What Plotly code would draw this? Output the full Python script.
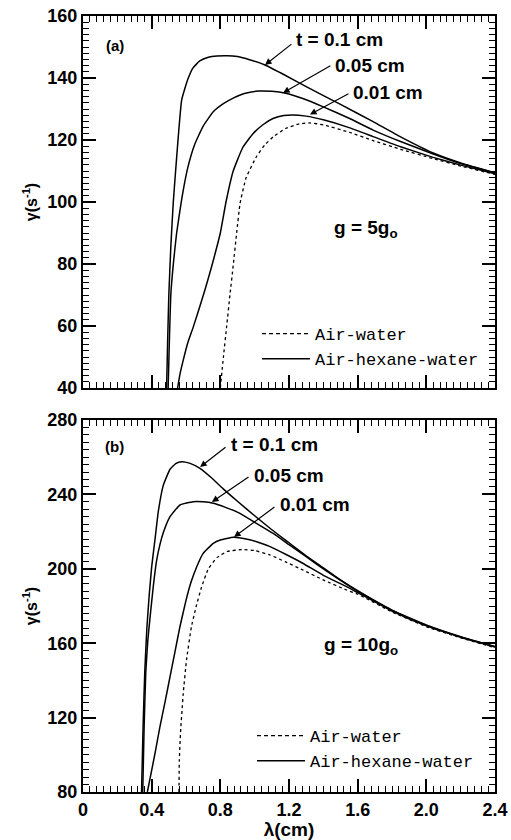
import plotly.graph_objects as go

# ---------------- data ----------------
# Panel (a): g = 5 g0
lam_a_t10 = [0.487, 0.493, 0.50, 0.512, 0.526, 0.545, 0.575, 0.61, 0.64, 0.68, 0.73, 0.78, 0.84, 0.90, 0.97, 1.06, 1.18, 1.30, 1.50, 1.69, 1.85, 2.04, 2.20, 2.40]
gam_a_t10 = [40, 55, 70, 86, 100, 114, 133, 139.5, 143.2, 145.5, 146.7, 147.1, 147.2, 146.9, 145.9, 144.2, 140.8, 137.2, 131.5, 125.9, 121.0, 115.8, 112.6, 109.4]

lam_a_t05 = [0.496, 0.503, 0.512, 0.528, 0.545, 0.574, 0.61, 0.65, 0.70, 0.76, 0.82, 0.875, 0.94, 1.02, 1.10, 1.18, 1.28, 1.40, 1.55, 1.69, 1.85, 2.04, 2.20, 2.40]
gam_a_t05 = [40, 55, 70.5, 81, 89.8, 100.6, 111, 118.5, 124.5, 129.2, 131.8, 133.5, 135, 135.8, 135.7, 135.1, 133.4, 130.7, 127, 123.2, 119.5, 115.5, 112.4, 109.3]

lam_a_t01 = [0.551, 0.565, 0.584, 0.61, 0.643, 0.68, 0.715, 0.749, 0.775, 0.80, 0.833, 0.875, 0.93, 0.99, 1.05, 1.11, 1.17, 1.22, 1.30, 1.40, 1.55, 1.69, 1.85, 2.04, 2.20, 2.40]
gam_a_t01 = [40, 44.5, 49, 54.5, 59.8, 66.2, 72.5, 79.1, 84.5, 90, 100, 110, 117.5, 122, 125, 127, 127.9, 128.1, 127.7, 126.5, 124, 121.1, 117.8, 114.4, 111.9, 109.1]

lam_a_aw = [0.80, 0.818, 0.837, 0.856, 0.875, 0.895, 0.915, 0.95, 1.01, 1.06, 1.11, 1.18, 1.26, 1.32, 1.40, 1.55, 1.69, 1.85, 2.04, 2.20, 2.40]
gam_a_aw = [40, 50, 60, 70, 79.5, 90, 99.6, 107.8, 114.6, 118.5, 121.1, 123.7, 125.2, 125.5, 124.9, 122.5, 119.8, 117, 114, 111.6, 108.9]

# Panel (b): g = 10 g0
lam_b_t10 = [0.341, 0.350, 0.360, 0.372, 0.385, 0.400, 0.419, 0.439, 0.468, 0.507, 0.54, 0.575, 0.62, 0.681, 0.75, 0.817, 0.90, 1.00, 1.10, 1.20, 1.30, 1.40, 1.50, 1.60, 1.80, 2.00, 2.20, 2.40]
gam_b_t10 = [80, 115, 145, 168, 185, 201, 215.5, 231, 245, 253.5, 256.6, 257.6, 256.8, 254, 248.8, 243, 236.3, 228.5, 221, 214, 207, 200.5, 194, 188.2, 177.8, 169.8, 163.5, 158.2]

lam_b_t05 = [0.348, 0.356, 0.366, 0.378, 0.394, 0.41, 0.428, 0.448, 0.468, 0.507, 0.565, 0.642, 0.70, 0.759, 0.83, 0.914, 1.00, 1.108, 1.20, 1.30, 1.40, 1.50, 1.60, 1.80, 2.00, 2.20, 2.40]
gam_b_t05 = [80, 115, 145, 162, 177, 191, 204, 213, 219.5, 228, 234.3, 236.1, 236, 235.2, 233, 229.8, 225, 219, 213, 206.5, 200, 193.8, 188, 177.6, 169.6, 163.4, 158.1]

lam_b_t01 = [0.375, 0.39, 0.42, 0.448, 0.478, 0.507, 0.536, 0.565, 0.60, 0.63, 0.662, 0.70, 0.759, 0.80, 0.876, 0.95, 1.02, 1.09, 1.18, 1.28, 1.40, 1.535, 1.60, 1.80, 2.00, 2.20, 2.40]
gam_b_t01 = [80, 87, 101, 115, 128.5, 142, 155.5, 169, 183, 193, 201, 208.3, 213.7, 215.5, 216.9, 216, 214.3, 211.9, 207.8, 203, 196.5, 190.4, 187.2, 177.3, 169.3, 163.2, 157.9]

lam_b_aw = [0.559, 0.561, 0.565, 0.57, 0.577, 0.584, 0.603, 0.632, 0.66, 0.69, 0.73, 0.78, 0.84, 0.93, 1.0, 1.09, 1.18, 1.28, 1.40, 1.535, 1.60, 1.80, 2.00, 2.20, 2.40]
gam_b_aw = [80, 97, 106, 115, 124, 133, 151, 169, 180, 190, 200, 206, 209.3, 210.4, 209.8, 207.4, 203.7, 199.4, 194, 188.6, 186.4, 176.8, 168.9, 162.9, 157.6]

curve_labels = ["t = 0.1 cm", "0.05 cm", "0.01 cm"]
legend_labels = ["Air-water", "Air-hexane-water"]

# ---------------- figure ----------------
FONT = "Liberation Sans"
MONO = "Liberation Mono"
fig = go.Figure()

solid = dict(color="black", width=1.5)
dotted = dict(color="black", width=1.3, dash="dot")

panels = [
    ("x", "y", "legend",
     [(lam_a_t10, gam_a_t10), (lam_a_t05, gam_a_t05), (lam_a_t01, gam_a_t01)], (lam_a_aw, gam_a_aw)),
    ("x2", "y2", "legend2",
     [(lam_b_t10, gam_b_t10), (lam_b_t05, gam_b_t05), (lam_b_t01, gam_b_t01)], (lam_b_aw, gam_b_aw)),
]
for xa, ya, lg, sol, aw in panels:
    fig.add_trace(go.Scatter(x=aw[0], y=aw[1], mode="lines", line=dotted,
                             line_shape="spline", line_smoothing=0.4,
                             showlegend=False, xaxis=xa, yaxis=ya))
    for lx, gy in sol:
        fig.add_trace(go.Scatter(x=lx, y=gy, mode="lines", line=solid,
                                 line_shape="spline", line_smoothing=0.4,
                                 showlegend=False, xaxis=xa, yaxis=ya))
    # legend entries
    fig.add_trace(go.Scatter(x=[None], y=[None], mode="lines", name=legend_labels[0],
                             line=dict(color="black", width=1.3, dash="4px,3px"),
                             legend=lg, xaxis=xa, yaxis=ya))
    fig.add_trace(go.Scatter(x=[None], y=[None], mode="lines", name=legend_labels[1],
                             line=dict(color="black", width=1.5),
                             legend=lg, xaxis=xa, yaxis=ya))

TICKC = "black"
tick_font = dict(family=FONT, size=18, color="black", weight="bold")
common_x = dict(range=[0, 2.4], showline=True, linewidth=2, linecolor="black",
                mirror="ticks", ticks="inside", ticklen=13, tickwidth=1.5, tickcolor=TICKC,
                tickmode="linear", tick0=0, dtick=0.4, tickformat=".1f",
                labelalias={"0.0": "0"}, ticklabeloverflow="allow",
                minor=dict(tickmode="linear", tick0=0, dtick=0.04, ticks="inside",
                           ticklen=6, tickwidth=1.2, tickcolor=TICKC),
                showgrid=False, zeroline=False, automargin=False,
                tickfont=tick_font)
common_y = dict(showline=True, linewidth=2, linecolor="black",
                mirror="ticks", ticks="inside", ticklen=13, tickwidth=1.5, tickcolor=TICKC,
                tickmode="linear", tick0=0, ticklabeloverflow="allow",
                showgrid=False, zeroline=False, automargin=False,
                tickfont=tick_font,
                title=dict(text="γ(s<sup>-1</sup>)", standoff=6,
                           font=dict(family=FONT, size=16, color="black", weight="bold")))

W, H = 511, 840
top_dom = [(792 - 388) / 776, 1.0]
bot_dom = [0.0, (792 - 420) / 776]

fig.update_layout(
    width=W, height=H,
    margin=dict(l=83, r=16, t=16, b=48, autoexpand=False),
    paper_bgcolor="white", plot_bgcolor="white",
    font=dict(family=FONT, color="black"),
    xaxis=dict(common_x, domain=[0, 1], anchor="y", showticklabels=False),
    yaxis=dict(common_y, domain=top_dom, anchor="x", range=[40, 160], dtick=20,
               minor=dict(tickmode="linear", tick0=0, dtick=2, ticks="inside",
                          ticklen=6, tickwidth=1.2, tickcolor=TICKC)),
    xaxis2=dict(common_x, domain=[0, 1], anchor="y2",
                title=dict(text="λ(cm)", standoff=1,
                           font=dict(family=FONT, size=19, color="black", weight="bold"))),
    yaxis2=dict(common_y, domain=bot_dom, anchor="x2", range=[80, 280], dtick=40,
                minor=dict(tickmode="linear", tick0=0, dtick=4, ticks="inside",
                           ticklen=6, tickwidth=1.2, tickcolor=TICKC)),
    legend=dict(x=(257 - 83) / 412, y=(792 - 316) / 776, xanchor="left", yanchor="top",
                bgcolor="rgba(0,0,0,0)", itemwidth=48, tracegroupgap=0,
                font=dict(family=MONO, size=17, color="black")),
    legend2=dict(x=(252 - 83) / 412, y=(792 - 718) / 776, xanchor="left", yanchor="top",
                 bgcolor="rgba(0,0,0,0)", itemwidth=48, tracegroupgap=0,
                 font=dict(family=MONO, size=17, color="black")),
)

ann_font = dict(family=FONT, size=19, color="black", weight="bold")
annotations = []

def label(xref, yref, x, y, text, size=19, xanchor="left"):
    annotations.append(dict(xref=xref, yref=yref, x=x, y=y, text=text, showarrow=False,
                            xanchor=xanchor, yanchor="middle",
                            font=dict(ann_font, size=size)))

def arrow(xref, yref, x0, y0, x1, y1):
    annotations.append(dict(xref=xref, yref=yref, axref=xref, ayref=yref,
                            x=x1, y=y1, ax=x0, ay=y0, text="", showarrow=True,
                            arrowhead=2, arrowsize=1.1, arrowwidth=1.2, arrowcolor="black",
                            standoff=0, startstandoff=0))

# panel (a)
label("x", "y", 0.186, 150.6, "(a)", size=15, xanchor="center")
label("x", "y", 1.229, 152.3, curve_labels[0])
label("x", "y", 1.456, 143.9, curve_labels[1])
label("x", "y", 1.561, 135.2, curve_labels[2])
arrow("x", "y", 1.223, 151.3, 1.060, 144.2)
arrow("x", "y", 1.450, 144.2, 1.165, 135.2)
arrow("x", "y", 1.555, 135.2, 1.322, 128.2)
label("x", "y", 1.648, 91.3, "g = 5g<sub>o</sub>", xanchor="center")

# panel (b)
label("x2", "y2", 0.186, 265.5, "(b)", size=15, xanchor="center")
label("x2", "y2", 0.850, 266.6, curve_labels[0])
label("x2", "y2", 0.984, 250.4, curve_labels[1])
label("x2", "y2", 1.136, 234.3, curve_labels[2])
arrow("x2", "y2", 0.839, 266.0, 0.682, 254.7)
arrow("x2", "y2", 0.973, 249.9, 0.751, 235.9)
arrow("x2", "y2", 1.124, 233.8, 0.880, 217.1)
label("x2", "y2", 1.619, 158.5, "g = 10g<sub>o</sub>", xanchor="center")

fig.update_layout(annotations=annotations)
# remove the browser's default 8px page margin so the 511x840 figure fills the window
fig.write_html("out.html", config={"displayModeBar": False},
               post_script="document.body.style.margin='0';document.body.style.overflow='hidden';")
